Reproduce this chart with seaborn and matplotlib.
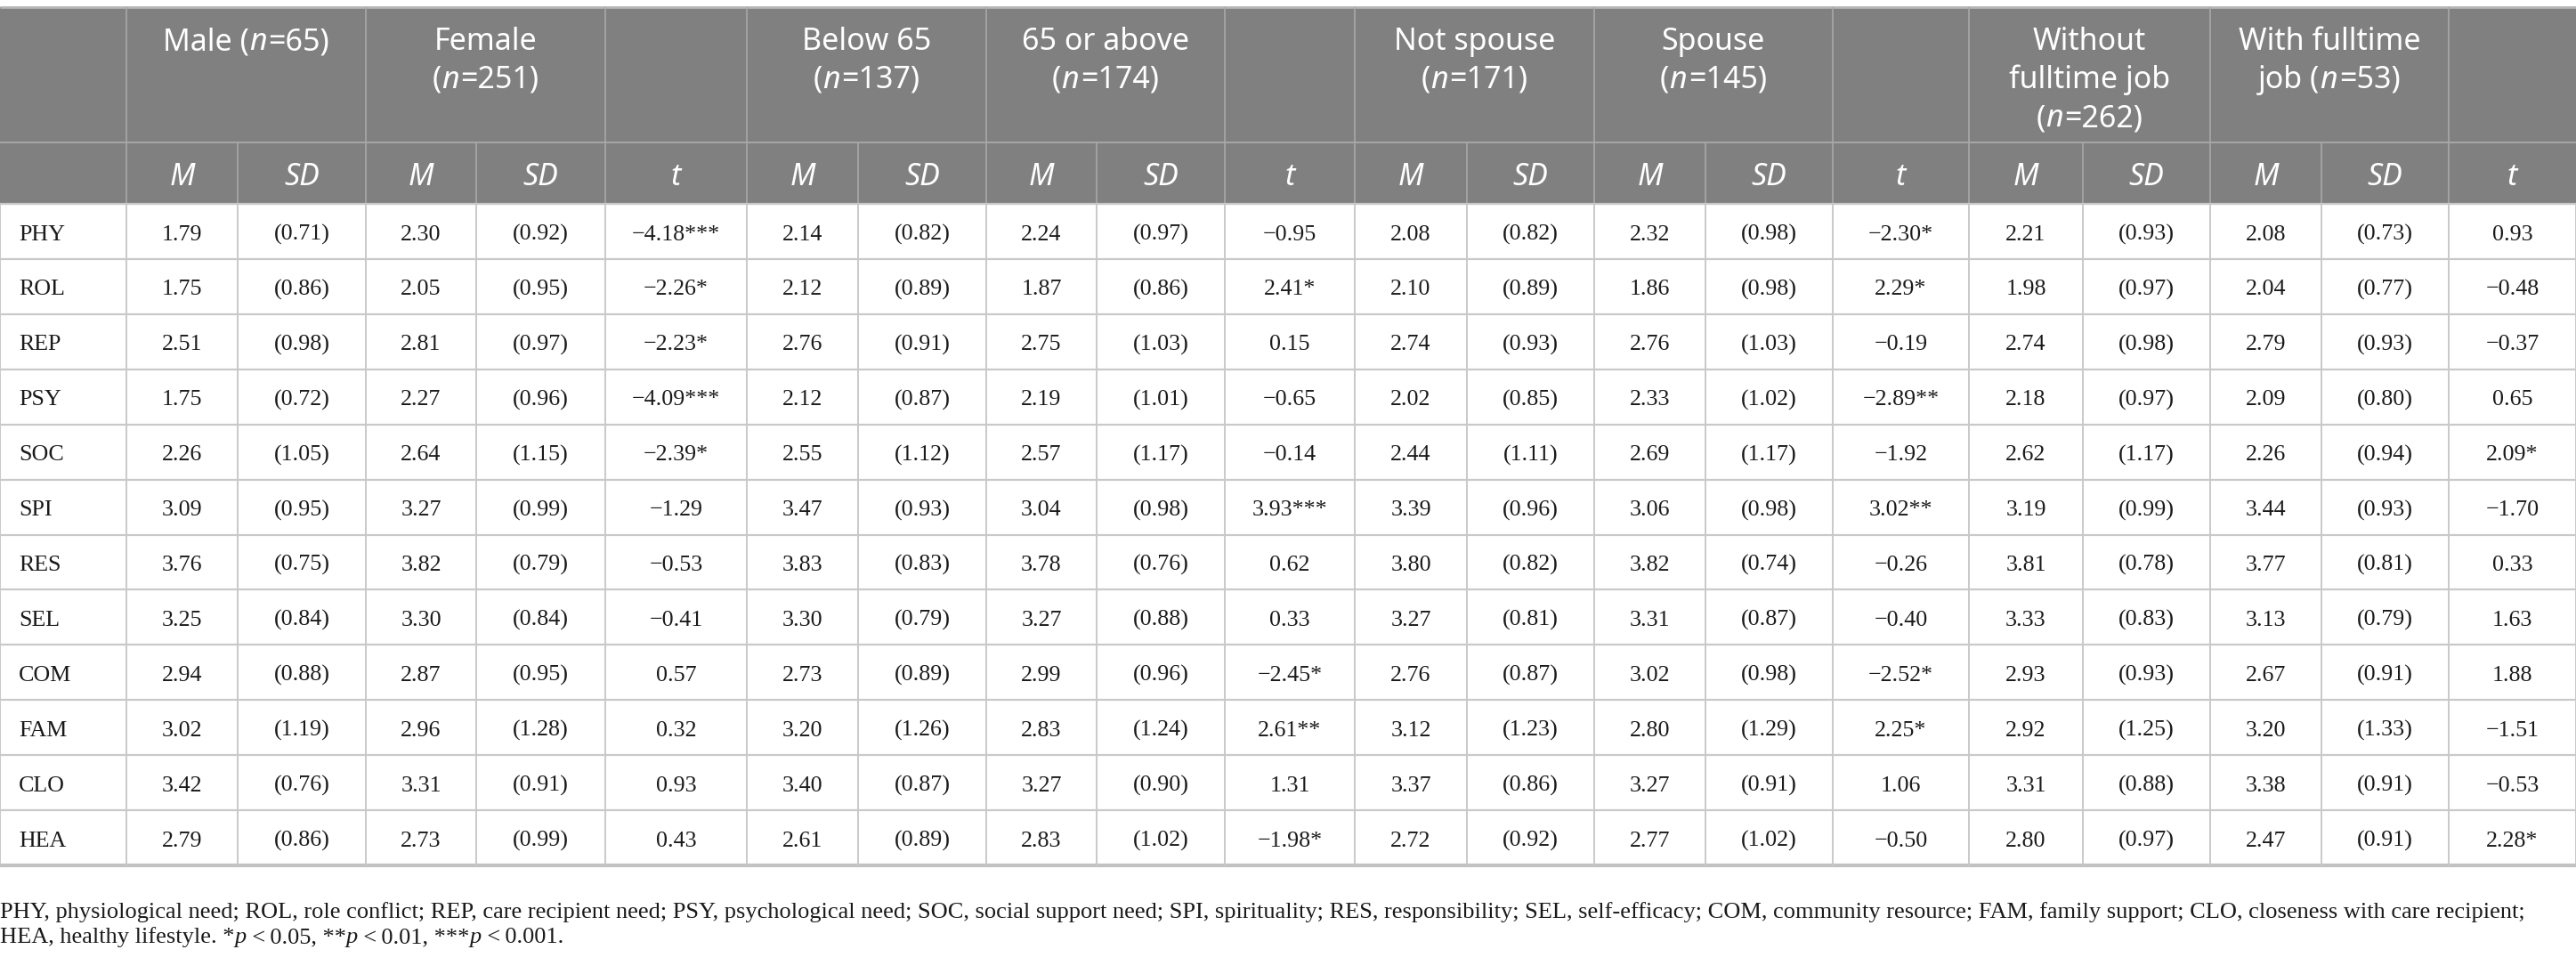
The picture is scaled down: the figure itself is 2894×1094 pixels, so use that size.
import matplotlib
matplotlib.use("Agg")
import matplotlib.pyplot as plt
from matplotlib.patches import Rectangle
import numpy as np
import pandas as pd
import seaborn as sns

# ---------------- data ----------------
rows = ["PHY", "ROL", "REP", "PSY", "SOC", "SPI", "RES", "SEL", "COM", "FAM", "CLO", "HEA"]

male_m    = [1.79, 1.75, 2.51, 1.75, 2.26, 3.09, 3.76, 3.25, 2.94, 3.02, 3.42, 2.79]
male_sd   = [0.71, 0.86, 0.98, 0.72, 1.05, 0.95, 0.75, 0.84, 0.88, 1.19, 0.76, 0.86]
female_m  = [2.30, 2.05, 2.81, 2.27, 2.64, 3.27, 3.82, 3.30, 2.87, 2.96, 3.31, 2.73]
female_sd = [0.92, 0.95, 0.97, 0.96, 1.15, 0.99, 0.79, 0.84, 0.95, 1.28, 0.91, 0.99]
gender_t  = [-4.18, -2.26, -2.23, -4.09, -2.39, -1.29, -0.53, -0.41, 0.57, 0.32, 0.93, 0.43]
gender_sig = ["***", "*", "*", "***", "*", "", "", "", "", "", "", ""]

below65_m  = [2.14, 2.12, 2.76, 2.12, 2.55, 3.47, 3.83, 3.30, 2.73, 3.20, 3.40, 2.61]
below65_sd = [0.82, 0.89, 0.91, 0.87, 1.12, 0.93, 0.83, 0.79, 0.89, 1.26, 0.87, 0.89]
above65_m  = [2.24, 1.87, 2.75, 2.19, 2.57, 3.04, 3.78, 3.27, 2.99, 2.83, 3.27, 2.83]
above65_sd = [0.97, 0.86, 1.03, 1.01, 1.17, 0.98, 0.76, 0.88, 0.96, 1.24, 0.90, 1.02]
age_t      = [-0.95, 2.41, 0.15, -0.65, -0.14, 3.93, 0.62, 0.33, -2.45, 2.61, 1.31, -1.98]
age_sig    = ["", "*", "", "", "", "***", "", "", "*", "**", "", "*"]

notspouse_m  = [2.08, 2.10, 2.74, 2.02, 2.44, 3.39, 3.80, 3.27, 2.76, 3.12, 3.37, 2.72]
notspouse_sd = [0.82, 0.89, 0.93, 0.85, 1.11, 0.96, 0.82, 0.81, 0.87, 1.23, 0.86, 0.92]
spouse_m     = [2.32, 1.86, 2.76, 2.33, 2.69, 3.06, 3.82, 3.31, 3.02, 2.80, 3.27, 2.77]
spouse_sd    = [0.98, 0.98, 1.03, 1.02, 1.17, 0.98, 0.74, 0.87, 0.98, 1.29, 0.91, 1.02]
spouse_t     = [-2.30, 2.29, -0.19, -2.89, -1.92, 3.02, -0.26, -0.40, -2.52, 2.25, 1.06, -0.50]
spouse_sig   = ["*", "*", "", "**", "", "**", "", "", "*", "*", "", ""]

nojob_m  = [2.21, 1.98, 2.74, 2.18, 2.62, 3.19, 3.81, 3.33, 2.93, 2.92, 3.31, 2.80]
nojob_sd = [0.93, 0.97, 0.98, 0.97, 1.17, 0.99, 0.78, 0.83, 0.93, 1.25, 0.88, 0.97]
job_m    = [2.08, 2.04, 2.79, 2.09, 2.26, 3.44, 3.77, 3.13, 2.67, 3.20, 3.38, 2.47]
job_sd   = [0.73, 0.77, 0.93, 0.80, 0.94, 0.93, 0.81, 0.79, 0.91, 1.33, 0.91, 0.91]
job_t    = [0.93, -0.48, -0.37, 0.65, 2.09, -1.70, 0.33, 1.63, 1.88, -1.51, -0.53, 2.28]
job_sig  = ["", "", "", "", "*", "", "", "", "", "", "", "*"]

# group header labels: list of lines, each line list of (text, italic?)
group_headers = [
    [[("Male (", False), ("n", True), ("=65)", False)]],
    [[("Female", False)], [("(", False), ("n", True), ("=251)", False)]],
    None,
    [[("Below 65", False)], [("(", False), ("n", True), ("=137)", False)]],
    [[("65 or above", False)], [("(", False), ("n", True), ("=174)", False)]],
    None,
    [[("Not spouse", False)], [("(", False), ("n", True), ("=171)", False)]],
    [[("Spouse", False)], [("(", False), ("n", True), ("=145)", False)]],
    None,
    [[("Without", False)], [("fulltime job", False)], [("(", False), ("n", True), ("=262)", False)]],
    [[("With fulltime", False)], [("job (", False), ("n", True), ("=53)", False)]],
    None,
]
sub_headers = ["M", "SD", "M", "SD", "t", "M", "SD", "M", "SD", "t",
               "M", "SD", "M", "SD", "t", "M", "SD", "M", "SD", "t"]

footnote_line1 = ("PHY, physiological need; ROL, role conflict; REP, care recipient need; "
                  "PSY, psychological need; SOC, social support need; SPI, spirituality; "
                  "RES, responsibility; SEL, self-efficacy; COM, community resource; "
                  "FAM, family support; CLO, closeness with care recipient;")
footnote_line2 = [("HEA, healthy lifestyle. *", False), ("p", True), ("\u2009<\u20090.05, **", False),
                  ("p", True), ("\u2009<\u20090.01, ***", False), ("p", True), ("\u2009<\u20090.001.", False)]


def fmt_m(v):
    return f"{v:.2f}"


def fmt_sd(v):
    return f"({v:.2f})"


def fmt_t(v, s):
    return f"{v:.2f}".replace("-", "\u2212") + s


columns = [
    [fmt_m(v) for v in male_m], [fmt_sd(v) for v in male_sd],
    [fmt_m(v) for v in female_m], [fmt_sd(v) for v in female_sd],
    [fmt_t(v, s) for v, s in zip(gender_t, gender_sig)],
    [fmt_m(v) for v in below65_m], [fmt_sd(v) for v in below65_sd],
    [fmt_m(v) for v in above65_m], [fmt_sd(v) for v in above65_sd],
    [fmt_t(v, s) for v, s in zip(age_t, age_sig)],
    [fmt_m(v) for v in notspouse_m], [fmt_sd(v) for v in notspouse_sd],
    [fmt_m(v) for v in spouse_m], [fmt_sd(v) for v in spouse_sd],
    [fmt_t(v, s) for v, s in zip(spouse_t, spouse_sig)],
    [fmt_m(v) for v in nojob_m], [fmt_sd(v) for v in nojob_sd],
    [fmt_m(v) for v in job_m], [fmt_sd(v) for v in job_sd],
    [fmt_t(v, s) for v, s in zip(job_t, job_sig)],
]
table = pd.DataFrame(dict(zip(range(len(columns)), columns)), index=rows)

# ---------------- layout ----------------
sns.set_theme(style="white")
plt.rcParams['font.family'] = ['Liberation Serif', 'DejaVu Serif']

W, H = 2894, 1094
DPI = 100
PT = 72.0 / DPI  # px -> pt

col_edges = [0, 142, 267, 411, 535, 680, 839, 964, 1108, 1232, 1376, 1522,
             1648, 1791, 1916, 2059, 2212, 2340, 2483, 2608, 2751, 2894]
# group spans in header row 1 (column index ranges of data columns 1..20)
group_spans = [(1, 3), (3, 5), (5, 6), (6, 8), (8, 10), (10, 11),
               (11, 13), (13, 15), (15, 16), (16, 18), (18, 20), (20, 21)]

top_y = 8
head1_bot = 160
head2_bot = 229
body_bot = 972
n_rows = len(rows)
row_h = (body_bot - head2_bot) / n_rows

HEAD_BG = "#808080"
HEAD_LINE = "#a8a8a8"
BODY_LINE = "#c9c9c9"
TXT = "#1a1a1a"

fig = plt.figure(figsize=(W / DPI, H / DPI), dpi=DPI)
fig.patch.set_facecolor("white")
ax = fig.add_axes([0, 0, 1, 1])
ax.set_xlim(0, W)
ax.set_ylim(H, 0)
ax.axis("off")
renderer = fig.canvas.get_renderer()

# header background
ax.add_patch(Rectangle((0, top_y), W, head2_bot - top_y, facecolor=HEAD_BG, edgecolor="none", zorder=0))
ax.hlines(top_y, 0, W, color="#b5b5b5", lw=2.0, zorder=2)
ax.hlines(head1_bot, 0, W, color=HEAD_LINE, lw=1.4, zorder=2)
# header verticals row 1
row1_edges = sorted(set([col_edges[a] for a, b in group_spans] + [col_edges[1]]))
ax.vlines(row1_edges[:], top_y, head1_bot, color=HEAD_LINE, lw=1.2, zorder=2)
# header verticals row 2
ax.vlines(col_edges[1:-1], head1_bot, head2_bot, color=HEAD_LINE, lw=1.2, zorder=2)

# body grid
for i in range(n_rows + 1):
    y = head2_bot + i * row_h
    lw = 3.0 if i == n_rows else 1.6
    col = "#c2c2c2" if i == n_rows else BODY_LINE
    ax.hlines(y, 0, W, color=col, lw=lw, zorder=2)
ax.vlines(col_edges[:-1], head2_bot, body_bot, color=BODY_LINE, lw=1.4, zorder=2)
ax.vlines([W - 0.5], head2_bot, body_bot, color=BODY_LINE, lw=1.4, zorder=2)


def rich(x, y, segs, ha="center", family="Noto Sans", size=20, color="white", gap_after_italic=0.0):
    texts, widths = [], []
    for s, it in segs:
        t = ax.text(0, y, s, fontstyle="italic" if it else "normal", family=family,
                    fontsize=size, color=color, ha="left", va="baseline", zorder=3)
        w = t.get_window_extent(renderer).width
        if it:
            w += gap_after_italic
        texts.append(t)
        widths.append(w)
    total = sum(widths)
    x0 = x - total / 2 if ha == "center" else x
    for t, w in zip(texts, widths):
        t.set_x(x0)
        x0 += w


HEAD_SIZE = 34 * PT
head_baselines = [56, 99, 142]
for (a, b), lines in zip(group_spans, group_headers):
    if lines is None:
        continue
    cx = (col_edges[a] + col_edges[b]) / 2
    for li, line in enumerate(lines):
        rich(cx, head_baselines[li], line, size=HEAD_SIZE, gap_after_italic=2.0)

for j, lab in enumerate(sub_headers):
    cx = (col_edges[j + 1] + col_edges[j + 2]) / 2
    ax.text(cx, 208, lab, family="Noto Sans", fontstyle="italic", fontsize=HEAD_SIZE,
            color="white", ha="center", va="baseline", zorder=3)

# body
BODY_SIZE = 26 * PT
for i, rname in enumerate(table.index):
    yb = head2_bot + i * row_h + 40.5
    ax.text(21, yb, rname, family="Liberation Serif", fontsize=BODY_SIZE, color=TXT,
            ha="left", va="baseline", zorder=3)
    for j in table.columns:
        cx = (col_edges[j + 1] + col_edges[j + 2]) / 2
        ax.text(cx, yb, table.loc[rname, j], family="Liberation Serif", fontsize=BODY_SIZE,
                color=TXT, ha="center", va="baseline", zorder=3)

# footnote: fit first line to reference width
probe = ax.text(0, 1031, footnote_line1, family="Liberation Serif", fontsize=22 * PT,
                color=TXT, ha="left", va="baseline", zorder=3)
w0 = probe.get_window_extent(renderer).width
fsize = 22 * PT * 2827.0 / w0
probe.set_fontsize(fsize)
rich(0, 1059, footnote_line2, ha="left", family="Liberation Serif", size=fsize, color=TXT,
     gap_after_italic=1.0)

fig.savefig("out.png", dpi=DPI, facecolor="white")
